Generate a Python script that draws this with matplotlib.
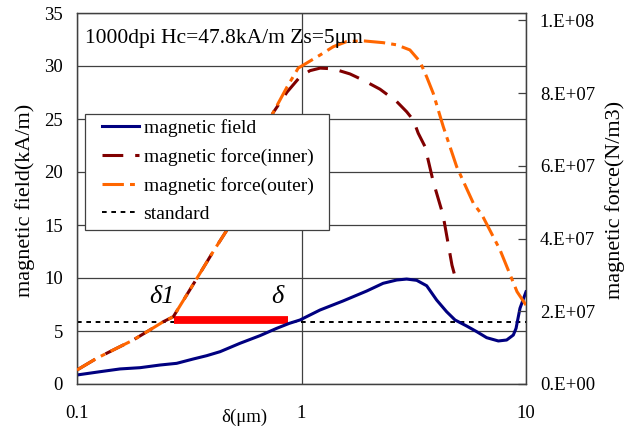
import matplotlib
matplotlib.use("Agg")
import matplotlib.pyplot as plt
from matplotlib.ticker import FixedLocator, FixedFormatter, NullLocator
from matplotlib.patches import Rectangle

plt.rcParams['font.family'] = ['Liberation Serif', 'DejaVu Serif']

# ---------------- data ----------------
field_x = [0.1, 0.1266, 0.1554, 0.191, 0.2343, 0.278, 0.3296, 0.378, 0.434, 0.532,
           0.653, 0.775, 0.882, 0.985, 1.209, 1.53, 1.951, 2.31, 2.655, 2.94,
           3.26, 3.61, 4.0, 4.43, 4.83, 5.44, 6.03, 6.68, 7.53, 8.2, 8.78,
           9.03, 9.4, 10.0]
field_y = [0.85, 1.16, 1.42, 1.54, 1.79, 1.95, 2.36, 2.67, 3.05, 3.84,
           4.56, 5.25, 5.72, 6.04, 6.98, 7.83, 8.77, 9.5, 9.81, 9.9,
           9.78, 9.27, 7.92, 6.82, 6.04, 5.47, 4.94, 4.37, 4.06, 4.15, 4.62,
           5.25, 7.14, 8.7]

inner_x = [0.1, 0.1224, 0.140, 0.178, 0.211, 0.2424, 0.2685, 0.308, 0.353, 0.404,
           0.466, 0.746, 0.862, 0.985, 1.091, 1.21, 1.386, 1.644, 1.88, 2.237,
           2.655, 2.94, 3.15, 3.31, 3.55, 3.86, 4.10, 4.27, 4.68, 4.93]
inner_y = [3.85e6, 7.07e6, 8.89e6, 1.21e7, 1.486e7, 1.714e7, 1.851e7, 2.448e7, 3.045e7, 3.64e7,
           4.24e7, 7.455e7, 8.03e7, 8.45e7, 8.62e7, 8.69e7, 8.67e7, 8.53e7, 8.36e7, 8.11e7,
           7.77e7, 7.49e7, 7.26e7, 6.9e7, 6.53e7, 5.57e7, 5.02e7, 4.65e7, 3.27e7, 2.75e7]

outer_x = [0.1, 0.1224, 0.140, 0.178, 0.211, 0.2424, 0.2685, 0.308, 0.353, 0.404,
           0.466, 0.746, 0.862, 0.967, 1.21, 1.386, 1.59, 1.88, 2.31, 2.655,
           3.04, 3.37, 3.61, 3.86, 4.28, 4.91, 5.83, 6.37, 7.66, 9.12, 10.0]
outer_y = [3.85e6, 7.07e6, 8.89e6, 1.21e7, 1.486e7, 1.714e7, 1.851e7, 2.448e7, 3.045e7, 3.64e7,
           4.24e7, 7.455e7, 8.17e7, 8.69e7, 9.05e7, 9.28e7, 9.42e7, 9.44e7, 9.39e7, 9.33e7,
           9.19e7, 8.87e7, 8.45e7, 8.0e7, 7.08e7, 5.98e7, 4.97e7, 4.65e7, 3.69e7, 2.54e7, 2.17e7]

standard_x = [0.1, 10.0]
standard_y = [5.88, 5.88]

bar_x = [0.27, 0.875]
bar_y = [6.05, 6.05]

delta1_pos = (0.239, 7.64)
delta_pos = (0.778, 7.64)

x_ticks = [0.1, 1, 10]
x_ticklabels = ['0.1', '1', '10']
left_ticks = [0, 5, 10, 15, 20, 25, 30, 35]
right_ticks = [0, 2e7, 4e7, 6e7, 8e7, 1e8]
right_ticklabels = ['0.E+00', '2.E+07', '4.E+07', '6.E+07', '8.E+07', '1.E+08']

series_labels = ['magnetic field', 'magnetic force(inner)', 'magnetic force(outer)', 'standard']
annotation = '1000dpi Hc=47.8kA/m Zs=5\u03bcm'

# ---------------- figure ----------------
W, H = 634, 429
fig = plt.figure(figsize=(W / 100, H / 100), dpi=100)
L, R, T, B = 77, 526, 13, 384
ax = fig.add_axes([L / W, 1 - B / H, (R - L) / W, (B - T) / H])
ax2 = ax.twinx()

gcol = '#404040'
ax.set_xscale('log')
ax.set_xlim(0.1, 10)
ax.set_ylim(0, 35)
ax2.set_ylim(0, 1.0206e8)

ax.xaxis.set_major_locator(FixedLocator(x_ticks))
ax.xaxis.set_major_formatter(FixedFormatter(x_ticklabels))
ax.xaxis.set_minor_locator(NullLocator())
ax.set_yticks(left_ticks)
ax2.yaxis.set_major_locator(FixedLocator(right_ticks))
ax2.yaxis.set_major_formatter(FixedFormatter(right_ticklabels))

ax.grid(True, which='major', color=gcol, linewidth=0.9)
ax.set_axisbelow(True)

ax.tick_params(axis='x', length=0, pad=15, labelsize=13.5)
ax.tick_params(axis='y', length=0, pad=10, labelsize=13.5)
ax2.tick_params(axis='y', direction='in', length=6, width=0.9, color=gcol, pad=10, labelsize=13.5)

for a in (ax, ax2):
    for s in a.spines.values():
        s.set_color(gcol)
        s.set_linewidth(0.9)

# series
ax.plot(standard_x, standard_y, color='black', linewidth=1.4, dashes=(2.4, 2.4), zorder=3)
ax.plot(bar_x, bar_y, color='#ff0000', linewidth=5.6, solid_capstyle='butt', zorder=4)
l_field, = ax.plot(field_x, field_y, color='#000080', linewidth=2.2, zorder=5)
l_inner, = ax2.plot(inner_x, inner_y, color='#800000', linewidth=2.2, dashes=(6.8, 3.9), zorder=3)
l_outer, = ax2.plot(outer_x, outer_y, color='#ff6600', linewidth=2.2, dashes=(7.0, 2.0, 1.6, 2.0), zorder=4)
l_std = plt.Line2D([], [], color='black', linewidth=1.4, dashes=(2.4, 2.4))

ax.text(*delta1_pos, '\u03b41', fontsize=19, style='italic', ha='center', va='baseline', zorder=6)
ax.text(*delta_pos, '\u03b4', fontsize=19, style='italic', ha='center', va='baseline', zorder=6)

fig.text(85 / W, 1 - 38 / H, annotation, fontsize=15.5, ha='left', va='center')
fig.text(244 / W, 1 - 417 / H, '\u03b4(\u03bcm)', fontsize=13.5, ha='center', va='center')
fig.text(25 / W, 1 - 200 / H, 'magnetic field(kA/m)', fontsize=16, rotation=90, ha='center', va='center')
fig.text(615 / W, 1 - 200 / H, 'magnetic force(N/m3)', fontsize=16, rotation=90, ha='center', va='center')

# legend frame + legend
fx0, fy0, fx1, fy1 = 85, 114, 329, 230
frame = Rectangle((fx0 / W, 1 - fy1 / H), (fx1 - fx0) / W, (fy1 - fy0) / H,
                  transform=fig.transFigure, facecolor='white', edgecolor=gcol,
                  linewidth=0.9, zorder=10)
fig.add_artist(frame)
leg = fig.legend([l_field, l_inner, l_outer, l_std], series_labels,
                 loc='upper left', bbox_to_anchor=(101.7 / W, 1 - 119 / H),
                 frameon=False, fontsize=14, borderpad=0, borderaxespad=0,
                 handlelength=1.9, handletextpad=0.25, labelspacing=0.56)
leg.set_zorder(11)

fig.savefig('out.png', dpi=100)
